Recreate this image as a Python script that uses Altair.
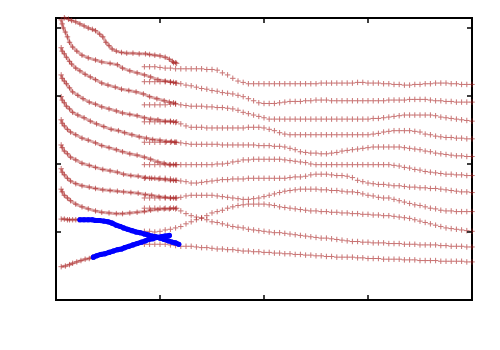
import altair as alt
import pandas as pd

# ---------------- data (x in [0,4], y in [0,4.147]) ----------------
x_ticks = [1, 2, 3]
y_ticks = [1, 2, 3, 4]

# shared x positions of the right-hand branches
right_x = [0.85, 0.90, 0.95, 1.00, 1.05, 1.10, 1.15, 1.20,
           1.25, 1.30, 1.35, 1.40, 1.45, 1.50, 1.55, 1.60,
           1.65, 1.70, 1.75, 1.80, 1.85, 1.90, 1.95, 2.00,
           2.05, 2.10, 2.15, 2.20, 2.25, 2.30, 2.35, 2.40,
           2.45, 2.50, 2.55, 2.60, 2.65, 2.70, 2.75, 2.80,
           2.85, 2.90, 2.95, 3.00, 3.05, 3.10, 3.15, 3.20,
           3.25, 3.30, 3.35, 3.40, 3.45, 3.50, 3.55, 3.60,
           3.65, 3.70, 3.75, 3.80, 3.85, 3.90, 3.95, 4.00]

r1_y = [3.43, 3.43, 3.43, 3.42, 3.41, 3.41, 3.40, 3.40,
        3.40, 3.40, 3.40, 3.40, 3.39, 3.39, 3.38, 3.34,
        3.31, 3.26, 3.22, 3.20, 3.18, 3.18, 3.18, 3.18,
        3.18, 3.18, 3.18, 3.18, 3.18, 3.18, 3.18, 3.18,
        3.18, 3.18, 3.19, 3.19, 3.19, 3.19, 3.19, 3.19,
        3.19, 3.20, 3.20, 3.19, 3.19, 3.19, 3.18, 3.18,
        3.17, 3.17, 3.16, 3.16, 3.17, 3.17, 3.18, 3.18,
        3.19, 3.19, 3.19, 3.18, 3.18, 3.17, 3.17, 3.17]
r2_y = [3.21, 3.21, 3.21, 3.21, 3.21, 3.20, 3.19, 3.18,
        3.16, 3.15, 3.13, 3.11, 3.10, 3.08, 3.07, 3.05,
        3.04, 3.03, 3.01, 2.99, 2.96, 2.93, 2.90, 2.89,
        2.89, 2.89, 2.90, 2.91, 2.92, 2.92, 2.92, 2.93,
        2.93, 2.94, 2.94, 2.94, 2.93, 2.93, 2.93, 2.93,
        2.93, 2.93, 2.93, 2.93, 2.93, 2.93, 2.93, 2.94,
        2.94, 2.94, 2.94, 2.95, 2.95, 2.95, 2.95, 2.94,
        2.93, 2.93, 2.92, 2.92, 2.91, 2.91, 2.91, 2.91]
r3_y = [2.87, 2.87, 2.87, 2.87, 2.87, 2.88, 2.88, 2.87,
        2.86, 2.85, 2.85, 2.85, 2.84, 2.84, 2.83, 2.83,
        2.82, 2.81, 2.79, 2.76, 2.74, 2.72, 2.70, 2.68,
        2.66, 2.66, 2.66, 2.66, 2.66, 2.66, 2.66, 2.66,
        2.66, 2.66, 2.66, 2.66, 2.66, 2.66, 2.66, 2.66,
        2.66, 2.66, 2.66, 2.66, 2.67, 2.67, 2.68, 2.69,
        2.70, 2.71, 2.72, 2.72, 2.72, 2.72, 2.72, 2.72,
        2.71, 2.69, 2.68, 2.67, 2.66, 2.65, 2.64, 2.63]
r4_y = [2.62, 2.62, 2.62, 2.62, 2.62, 2.62, 2.61, 2.59,
        2.56, 2.54, 2.54, 2.54, 2.53, 2.53, 2.53, 2.53,
        2.53, 2.53, 2.53, 2.53, 2.54, 2.54, 2.54, 2.53,
        2.51, 2.49, 2.46, 2.44, 2.43, 2.43, 2.43, 2.43,
        2.43, 2.43, 2.43, 2.43, 2.43, 2.43, 2.43, 2.43,
        2.43, 2.43, 2.43, 2.43, 2.44, 2.45, 2.47, 2.48,
        2.49, 2.49, 2.49, 2.49, 2.48, 2.47, 2.44, 2.43,
        2.41, 2.40, 2.39, 2.39, 2.38, 2.38, 2.37, 2.37]
r5_y = [2.32, 2.32, 2.32, 2.32, 2.32, 2.32, 2.32, 2.31,
        2.30, 2.29, 2.29, 2.29, 2.29, 2.29, 2.29, 2.28,
        2.28, 2.28, 2.28, 2.28, 2.28, 2.28, 2.27, 2.27,
        2.27, 2.26, 2.26, 2.25, 2.23, 2.21, 2.18, 2.17,
        2.16, 2.16, 2.15, 2.15, 2.16, 2.17, 2.19, 2.20,
        2.21, 2.22, 2.23, 2.24, 2.25, 2.25, 2.25, 2.25,
        2.25, 2.25, 2.24, 2.23, 2.22, 2.21, 2.19, 2.18,
        2.16, 2.15, 2.14, 2.13, 2.12, 2.12, 2.11, 2.11]
r6_y = [1.99, 1.99, 1.99, 1.99, 1.99, 1.99, 1.99, 1.99,
        1.99, 1.99, 1.99, 1.99, 1.99, 1.99, 2.00, 2.00,
        2.01, 2.03, 2.04, 2.06, 2.06, 2.07, 2.07, 2.07,
        2.07, 2.07, 2.07, 2.06, 2.05, 2.04, 2.03, 2.02,
        2.00, 1.99, 1.99, 1.99, 1.99, 1.99, 1.99, 1.99,
        1.99, 1.99, 1.99, 1.99, 1.99, 1.99, 1.99, 1.99,
        1.98, 1.97, 1.95, 1.94, 1.92, 1.91, 1.89, 1.88,
        1.87, 1.86, 1.85, 1.85, 1.84, 1.84, 1.83, 1.83]
r7_y = [1.79, 1.79, 1.79, 1.79, 1.79, 1.78, 1.76, 1.75,
        1.74, 1.72, 1.72, 1.73, 1.74, 1.75, 1.76, 1.77,
        1.77, 1.78, 1.78, 1.78, 1.79, 1.79, 1.79, 1.79,
        1.79, 1.79, 1.79, 1.79, 1.80, 1.81, 1.81, 1.82,
        1.84, 1.85, 1.85, 1.85, 1.84, 1.83, 1.83, 1.82,
        1.80, 1.76, 1.74, 1.72, 1.71, 1.70, 1.70, 1.69,
        1.68, 1.68, 1.67, 1.66, 1.66, 1.65, 1.65, 1.64,
        1.64, 1.63, 1.62, 1.61, 1.60, 1.59, 1.59, 1.58]
r8_y = [1.50, 1.50, 1.50, 1.50, 1.50, 1.50, 1.50, 1.51,
        1.53, 1.54, 1.54, 1.54, 1.54, 1.54, 1.53, 1.52,
        1.51, 1.50, 1.49, 1.48, 1.48, 1.49, 1.50, 1.52,
        1.54, 1.56, 1.58, 1.60, 1.61, 1.62, 1.63, 1.63,
        1.63, 1.63, 1.62, 1.62, 1.61, 1.61, 1.60, 1.59,
        1.59, 1.58, 1.56, 1.54, 1.53, 1.51, 1.50, 1.50,
        1.48, 1.46, 1.44, 1.42, 1.40, 1.39, 1.37, 1.35,
        1.34, 1.32, 1.31, 1.31, 1.30, 1.30, 1.30, 1.30]
r9_y = [1.01, 1.01, 1.00, 1.01, 1.03, 1.04, 1.06, 1.08,
        1.12, 1.15, 1.18, 1.21, 1.24, 1.28, 1.30, 1.32,
        1.35, 1.37, 1.39, 1.40, 1.41, 1.41, 1.41, 1.41,
        1.40, 1.39, 1.37, 1.36, 1.35, 1.34, 1.33, 1.32,
        1.31, 1.31, 1.30, 1.30, 1.29, 1.29, 1.28, 1.28,
        1.27, 1.27, 1.26, 1.26, 1.25, 1.25, 1.24, 1.24,
        1.23, 1.22, 1.21, 1.20, 1.18, 1.16, 1.14, 1.12,
        1.10, 1.08, 1.06, 1.05, 1.04, 1.03, 1.02, 1.01]
r10_y = [1.35, 1.35, 1.35, 1.35, 1.35, 1.35, 1.34, 1.31,
         1.27, 1.24, 1.22, 1.20, 1.18, 1.15, 1.14, 1.12,
         1.10, 1.08, 1.07, 1.06, 1.04, 1.03, 1.02, 1.01,
         1.00, 0.99, 0.99, 0.98, 0.97, 0.96, 0.95, 0.94,
         0.93, 0.92, 0.91, 0.91, 0.90, 0.89, 0.88, 0.87,
         0.86, 0.86, 0.85, 0.85, 0.84, 0.84, 0.84, 0.83,
         0.83, 0.83, 0.82, 0.82, 0.82, 0.81, 0.81, 0.81,
         0.81, 0.80, 0.80, 0.79, 0.79, 0.79, 0.78, 0.78]
r11_y = [0.82, 0.82, 0.82, 0.82, 0.82, 0.81, 0.80, 0.79,
         0.79, 0.79, 0.78, 0.77, 0.77, 0.76, 0.75, 0.75,
         0.74, 0.74, 0.73, 0.72, 0.72, 0.71, 0.71, 0.70,
         0.70, 0.69, 0.69, 0.68, 0.68, 0.67, 0.67, 0.66,
         0.66, 0.65, 0.65, 0.64, 0.64, 0.63, 0.63, 0.63,
         0.63, 0.62, 0.62, 0.61, 0.61, 0.61, 0.60, 0.60,
         0.60, 0.60, 0.59, 0.59, 0.59, 0.58, 0.58, 0.58,
         0.58, 0.57, 0.57, 0.57, 0.57, 0.57, 0.56, 0.56]

# left-hand branches (own x positions each)
l1_x = [0.08, 0.12, 0.15, 0.19, 0.23, 0.27, 0.31, 0.35, 0.38, 0.42, 0.45, 0.48, 0.51, 0.54, 0.58,
        0.63, 0.68, 0.74, 0.80, 0.86, 0.90, 0.95, 1.00, 1.05, 1.09, 1.12, 1.13, 1.15, 1.16]
l1_y = [4.15, 4.13, 4.11, 4.09, 4.06, 4.03, 4.00, 3.98, 3.96, 3.91, 3.87, 3.79, 3.74, 3.69, 3.66,
        3.64, 3.63, 3.63, 3.62, 3.62, 3.61, 3.60, 3.59, 3.57, 3.54, 3.51, 3.49, 3.49, 3.48]
l2_x = [0.05, 0.06, 0.07, 0.09, 0.11, 0.13, 0.16, 0.20, 0.25, 0.31, 0.38, 0.44, 0.52, 0.59, 0.64,
        0.71, 0.78, 0.85, 0.91, 0.98, 1.05, 1.10, 1.13, 1.16]
l2_y = [4.12, 4.06, 4.00, 3.94, 3.87, 3.79, 3.72, 3.66, 3.60, 3.56, 3.53, 3.50, 3.48, 3.46, 3.41,
        3.37, 3.34, 3.31, 3.28, 3.24, 3.22, 3.21, 3.20, 3.19]
l3_x = [0.05, 0.06, 0.08, 0.10, 0.13, 0.15, 0.19, 0.23, 0.28, 0.33, 0.38, 0.44, 0.50, 0.57, 0.63,
        0.70, 0.77, 0.84, 0.90, 0.97, 1.04, 1.09, 1.13, 1.15]
l3_y = [3.71, 3.66, 3.62, 3.57, 3.51, 3.47, 3.41, 3.37, 3.32, 3.28, 3.24, 3.19, 3.16, 3.13, 3.10,
        3.08, 3.06, 3.03, 2.99, 2.96, 2.93, 2.91, 2.90, 2.89]
l4_x = [0.05, 0.06, 0.08, 0.10, 0.13, 0.16, 0.21, 0.26, 0.32, 0.38, 0.44, 0.51, 0.58, 0.64, 0.71,
        0.78, 0.85, 0.91, 0.98, 1.05, 1.10, 1.13, 1.16]
l4_y = [3.31, 3.26, 3.22, 3.18, 3.12, 3.06, 3.01, 2.96, 2.91, 2.88, 2.84, 2.81, 2.78, 2.75, 2.73,
        2.71, 2.68, 2.66, 2.65, 2.63, 2.63, 2.62, 2.62]
l5_x = [0.05, 0.06, 0.08, 0.10, 0.13, 0.16, 0.21, 0.27, 0.33, 0.39, 0.46, 0.53, 0.60, 0.66, 0.73,
        0.80, 0.87, 0.93, 1.00, 1.06, 1.11, 1.14, 1.16]
l5_y = [2.99, 2.94, 2.90, 2.85, 2.81, 2.76, 2.72, 2.68, 2.63, 2.59, 2.55, 2.51, 2.49, 2.46, 2.43,
        2.40, 2.38, 2.36, 2.35, 2.33, 2.33, 2.32, 2.32]
l6_x = [0.05, 0.06, 0.08, 0.11, 0.14, 0.19, 0.25, 0.31, 0.38, 0.44, 0.51, 0.58, 0.64, 0.71, 0.78,
        0.85, 0.91, 0.98, 1.04, 1.09, 1.13, 1.16]
l6_y = [2.65, 2.60, 2.56, 2.51, 2.47, 2.43, 2.38, 2.35, 2.31, 2.27, 2.24, 2.21, 2.18, 2.15, 2.13,
        2.10, 2.07, 2.03, 2.01, 1.99, 1.99, 1.99]
l7_x = [0.05, 0.06, 0.08, 0.11, 0.14, 0.19, 0.25, 0.32, 0.38, 0.45, 0.52, 0.59, 0.65, 0.72, 0.79,
        0.86, 0.92, 0.99, 1.05, 1.10, 1.13, 1.16]
l7_y = [2.28, 2.24, 2.19, 2.15, 2.10, 2.06, 2.01, 1.98, 1.95, 1.92, 1.90, 1.88, 1.85, 1.83, 1.82,
        1.80, 1.79, 1.78, 1.77, 1.76, 1.76, 1.76]
l8_x = [0.05, 0.06, 0.08, 0.11, 0.14, 0.19, 0.25, 0.32, 0.38, 0.45, 0.52, 0.59, 0.65, 0.72, 0.79,
        0.86, 0.92, 0.99, 1.05, 1.10, 1.13, 1.16]
l8_y = [1.93, 1.88, 1.84, 1.79, 1.75, 1.71, 1.68, 1.66, 1.64, 1.62, 1.61, 1.60, 1.59, 1.58, 1.57,
        1.55, 1.54, 1.52, 1.51, 1.50, 1.50, 1.50]
l9_x = [0.05, 0.06, 0.08, 0.11, 0.14, 0.19, 0.25, 0.31, 0.38, 0.44, 0.51, 0.58, 0.64, 0.71, 0.78,
        0.85, 0.91, 0.98, 1.04, 1.09, 1.13, 1.16]
l9_y = [1.63, 1.59, 1.54, 1.50, 1.46, 1.41, 1.37, 1.34, 1.31, 1.29, 1.28, 1.27, 1.27, 1.28, 1.29,
        1.30, 1.32, 1.33, 1.34, 1.34, 1.35, 1.35]

# the two lowest branches: red start, then blue
b1_red_x = [0.05, 0.08, 0.11, 0.13, 0.16, 0.19, 0.22]
b1_red_y = [1.19, 1.19, 1.18, 1.18, 1.18, 1.18, 1.18]
b1_blue_x = [0.23, 0.27, 0.31, 0.35, 0.38, 0.42, 0.46, 0.50, 0.54, 0.58, 0.62, 0.65, 0.69,
             0.73, 0.77, 0.81, 0.85, 0.88, 0.92, 0.96, 1.00, 1.04, 1.08, 1.12, 1.15, 1.18]
b1_blue_y = [1.18, 1.18, 1.18, 1.18, 1.17, 1.17, 1.16, 1.15, 1.13, 1.10, 1.08, 1.06, 1.04,
             1.02, 1.00, 0.99, 0.97, 0.96, 0.94, 0.93, 0.91, 0.89, 0.87, 0.85, 0.84, 0.82]
b2_red_x = [0.05, 0.09, 0.13, 0.16, 0.20, 0.24, 0.28, 0.32, 0.35]
b2_red_y = [0.49, 0.50, 0.52, 0.54, 0.56, 0.58, 0.60, 0.61, 0.63]
b2_blue_x = [0.36, 0.39, 0.43, 0.47, 0.51, 0.55, 0.59, 0.63, 0.66, 0.70,
             0.74, 0.78, 0.82, 0.86, 0.89, 0.93, 0.97, 1.01, 1.05, 1.09]
b2_blue_y = [0.63, 0.65, 0.67, 0.68, 0.70, 0.72, 0.74, 0.75, 0.77, 0.79,
             0.81, 0.83, 0.85, 0.87, 0.89, 0.90, 0.92, 0.93, 0.94, 0.95]

RED = "#a82020"
BLUE = "#0000ff"


def series(name, xs, ys):
    if len(xs) != len(ys):
        raise ValueError(f"{name}: {len(xs)} x values vs {len(ys)} y values")
    return pd.DataFrame({"x": xs, "y": ys, "s": name, "i": list(range(len(xs)))})


right_df = pd.concat([series(f"R{k + 1}", right_x, ys) for k, ys in enumerate(
    [r1_y, r2_y, r3_y, r4_y, r5_y, r6_y, r7_y, r8_y, r9_y, r10_y, r11_y])])
left_df = pd.concat([
    series("L1", l1_x, l1_y), series("L2", l2_x, l2_y), series("L3", l3_x, l3_y),
    series("L4", l4_x, l4_y), series("L5", l5_x, l5_y), series("L6", l6_x, l6_y),
    series("L7", l7_x, l7_y), series("L8", l8_x, l8_y), series("L9", l9_x, l9_y),
    series("B1r", b1_red_x, b1_red_y), series("B2r", b2_red_x, b2_red_y)])
blue_df = pd.concat([series("B1", b1_blue_x, b1_blue_y), series("B2", b2_blue_x, b2_blue_y)])
red_df = pd.concat([right_df, left_df])

W, H = 416, 282
xs = alt.Scale(domain=[0, 4], nice=False, zero=False)
ys = alt.Scale(domain=[0, 4.147], nice=False, zero=False)
X = alt.X("x:Q", scale=xs, axis=None)
Y = alt.Y("y:Q", scale=ys, axis=None)

left_band = alt.Chart(left_df).mark_line(color=RED, opacity=0.4, strokeWidth=3).encode(
    x=X, y=Y, detail="s:N", order="i:Q")
crosses = alt.Chart(red_df).mark_point(
    shape="M-1,0L1,0M0,-1L0,1", filled=False, color=RED, opacity=0.62, strokeWidth=1, size=30
).encode(x=X, y=Y)
blue_line = alt.Chart(blue_df).mark_line(color=BLUE, strokeWidth=5, strokeCap="round").encode(
    x=X, y=Y, detail="s:N", order="i:Q")
blue_pts = alt.Chart(blue_df).mark_circle(color=BLUE, opacity=1, size=26).encode(x=X, y=Y)

xt = pd.DataFrame({"v": x_ticks})
yt = pd.DataFrame({"v": y_ticks})
XT = alt.X("v:Q", scale=xs, axis=None)
YT = alt.Y("v:Q", scale=ys, axis=None)
tick_style = dict(color="black", strokeWidth=1.5)
t_bottom = alt.Chart(xt).mark_rule(**tick_style).encode(x=XT, y=alt.value(H - 5), y2=alt.value(H))
t_top = alt.Chart(xt).mark_rule(**tick_style).encode(x=XT, y=alt.value(0), y2=alt.value(5))
t_left = alt.Chart(yt).mark_rule(**tick_style).encode(y=YT, x=alt.value(0), x2=alt.value(5))
t_right = alt.Chart(yt).mark_rule(**tick_style).encode(y=YT, x=alt.value(W - 5), x2=alt.value(W))

chart = alt.layer(left_band, crosses, blue_line, blue_pts, t_bottom, t_top, t_left, t_right).properties(
    width=W, height=H,
    padding={"left": 48, "top": 10, "right": 10, "bottom": 40},
    autosize=alt.AutoSizeParams(type="none"),
).configure_view(stroke="black", strokeWidth=2)

chart.save("out.html", embed_options={"renderer": "svg", "actions": False})
